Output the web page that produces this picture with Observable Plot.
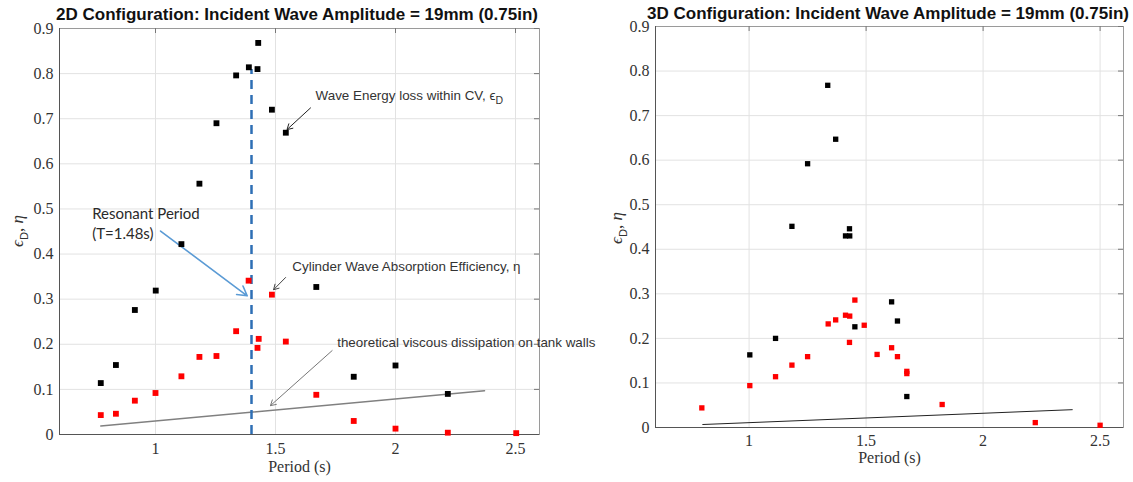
<!DOCTYPE html>
<html><head><meta charset="utf-8">
<script src="https://cdn.jsdelivr.net/npm/d3@7"></script>
<script src="https://cdn.jsdelivr.net/npm/@observablehq/plot@0.6"></script>
<style>
body{margin:0;background:#fff;width:1133px;height:482px;overflow:hidden;position:relative;font-family:"Liberation Sans",Arial,sans-serif}
.title{position:absolute;font-weight:bold;font-size:17px;color:#111;white-space:nowrap;transform:translate(-50%,-50%)}
.ylab{position:absolute;font-family:"Liberation Serif",serif;font-size:17px;white-space:nowrap;transform:translate(-50%,-50%) rotate(-90deg);color:#333}
.ylab sub{font-family:"Liberation Sans",Arial,sans-serif;font-size:11px}
.chart{position:absolute;top:0}
</style></head><body>
<div id="c2d" class="chart" style="left:0"></div>
<div id="c3d" class="chart" style="left:600px"></div>
<div class="title" style="left:297px;top:15px">2D Configuration: Incident Wave Amplitude = 19mm (0.75in)</div>
<div class="title" style="left:888px;top:14px">3D Configuration: Incident Wave Amplitude = 19mm (0.75in)</div>
<div class="ylab" style="left:19px;top:231px"><i>ϵ</i><sub>D</sub>, <i>η</i></div>
<div class="ylab" style="left:618px;top:228px"><i>ϵ</i><sub>D</sub>, <i>η</i></div>
<script>
// ---- shared axes ----
const xTicks = [1, 1.5, 2, 2.5];
const yTicks = [0, 0.1, 0.2, 0.3, 0.4, 0.5, 0.6, 0.7, 0.8, 0.9];
const xDomain = [0.6, 2.6];
const yDomain = [0, 0.9];
const xLabel = "Period (s)";

// ---- 2D configuration ----
const period2dLoss = [0.772, 0.835, 0.914, 1.001, 1.108, 1.183, 1.254, 1.336, 1.389, 1.425, 1.428, 1.485, 1.543, 1.670, 1.826, 2.0, 2.218];
const loss2d       = [0.114, 0.154, 0.276, 0.319, 0.422, 0.556, 0.690, 0.796, 0.814, 0.810, 0.868, 0.720, 0.669, 0.327, 0.128, 0.153, 0.090];
const period2dEff  = [0.772, 0.835, 0.914, 1.0, 1.108, 1.183, 1.254, 1.336, 1.388, 1.425, 1.430, 1.485, 1.543, 1.670, 1.826, 2.0, 2.218, 2.503];
const eff2d        = [0.043, 0.046, 0.075, 0.092, 0.129, 0.172, 0.174, 0.229, 0.341, 0.192, 0.212, 0.310, 0.206, 0.088, 0.030, 0.013, 0.004, 0.003];
const viscous2dPeriod = [0.772, 2.371];
const viscous2d       = [0.019, 0.097];
const resonantPeriod = [1.4];
const resonantTop = [0.809];

// 2D annotations
const noteText = ["Wave Energy loss within CV, ϵ_D", "Cylinder Wave Absorption Efficiency, η", "theoretical viscous dissipation on tank walls"];
const noteX = [1.667, 1.570, 1.757];
const noteY = [0.752, 0.372, 0.204];
const noteColor = ["#333", "#333", "#333"];
const arrowX1 = [1.646, 1.542, 1.736];
const arrowY1 = [0.724, 0.348, 0.186];
const arrowX2 = [1.548, 1.492, 1.479];
const arrowY2 = [0.676, 0.321, 0.064];
const arrowColor = ["#222", "#444", "#777"];
const resonantText = ["Resonant Period\n(T=1.48s)"];
const resonantTextX = [0.736];
const resonantTextY = [0.469];
const resonantArrow = {x1: [1.021], y1: [0.451], x2: [1.382], y2: [0.3075]};

// ---- 3D configuration ----
const period3dLoss = [1.003, 1.113, 1.183, 1.250, 1.336, 1.370, 1.412, 1.429, 1.430, 1.452, 1.609, 1.634, 1.674];
const loss3d       = [0.163, 0.200, 0.4515, 0.592, 0.768, 0.647, 0.430, 0.446, 0.430, 0.226, 0.282, 0.239, 0.0695];
const period3dEff  = [0.798, 1.003, 1.113, 1.183, 1.250, 1.338, 1.370, 1.412, 1.430, 1.429, 1.452, 1.492, 1.547, 1.609, 1.634, 1.674, 1.674, 1.825, 2.223, 2.5];
const eff3d        = [0.044, 0.094, 0.114, 0.140, 0.159, 0.2325, 0.2415, 0.252, 0.250, 0.191, 0.286, 0.2295, 0.164, 0.179, 0.159, 0.126, 0.121, 0.0516, 0.011, 0.005];
const viscous3dPeriod = [0.802, 2.381];
const viscous3d       = [0.0067, 0.040];

function idx(a) { return d3.range(a.length); }

function baseMarks(pw, ph, xPad) {
  return [
    Plot.gridX(xTicks, {stroke: "#e2e2e2", strokeOpacity: 1}),
    Plot.gridY(yTicks, {stroke: "#e2e2e2", strokeOpacity: 1}),
    Plot.frame({stroke: "#9a9a9a"}),
    Plot.tickY(yTicks, {y: d => d, insetLeft: pw - 5, stroke: "#777"}),
    Plot.tickX(xTicks, {x: d => d, insetBottom: ph - 5, stroke: "#777"}),
    Plot.ruleX([xDomain[0]], {stroke: "#555"}),
    Plot.ruleY([yDomain[0]], {stroke: "#555"}),
    Plot.axisX(xTicks, {tickSize: 0, tickPadding: xPad, label: null, fontSize: 16, fill: "#333", tickFormat: d => String(d)}),
    Plot.axisY(yTicks, {tickSize: 0, tickPadding: 6, label: null, fontSize: 16, fill: "#333", tickFormat: d => String(d)})
  ];
}

// ---- 2D chart ----
{
  const W = 600, H = 482, ml = 59, mr = 61, mt = 28, mb = 48;
  const pw = W - ml - mr, ph = H - mt - mb;
  const svg = Plot.plot({
    width: W, height: H, marginLeft: ml, marginRight: mr, marginTop: mt, marginBottom: mb,
    style: {fontFamily: "'Liberation Serif', serif", fontSize: "16px", background: "transparent", overflow: "visible"},
    x: {domain: xDomain}, y: {domain: yDomain},
    marks: [
      ...baseMarks(pw, ph, 8),
      Plot.text([xLabel], {frameAnchor: "bottom", dy: 37, fontSize: 16, fill: "#333"}),
      Plot.line(idx(viscous2dPeriod), {x: i => viscous2dPeriod[i], y: i => viscous2d[i], stroke: "#808080", strokeWidth: 1.5}),
      Plot.ruleX(resonantPeriod, {x: d => d, y1: yDomain[0], y2: (d, i) => resonantTop[i], stroke: "#2e6fb5", strokeWidth: 2.5, strokeDasharray: "9,6"}),
      Plot.arrow(idx(arrowX1), {x1: i => arrowX1[i], y1: i => arrowY1[i], x2: i => arrowX2[i], y2: i => arrowY2[i], stroke: i => arrowColor[i], strokeWidth: 1, headLength: 9}),
      Plot.arrow([0], {x1: i => resonantArrow.x1[i], y1: i => resonantArrow.y1[i], x2: i => resonantArrow.x2[i], y2: i => resonantArrow.y2[i], stroke: "#5b9bd5", strokeWidth: 1.6, headLength: 10}),
      Plot.dot(idx(period2dLoss), {x: i => period2dLoss[i], y: i => loss2d[i], symbol: "square", r: 3.3, fill: "#000"}),
      Plot.dot(idx(period2dEff), {x: i => period2dEff[i], y: i => eff2d[i], symbol: "square", r: 3.3, fill: "#ff0000"}),
      Plot.text(idx(noteText), {x: i => noteX[i], y: i => noteY[i], text: i => noteText[i], textAnchor: "start", fontFamily: "'Liberation Sans', Arial, sans-serif", fontSize: 13.4, fill: i => noteColor[i]}),
      Plot.text(resonantText, {x: (d, i) => resonantTextX[i], y: (d, i) => resonantTextY[i], text: d => d, textAnchor: "start", lineHeight: 1.3, fontFamily: "Lato, 'Open Sans', sans-serif", fontSize: 15, fill: "#2a2a2a"})
    ]
  });
  document.getElementById("c2d").appendChild(svg);
}

// ---- 3D chart ----
{
  const W = 533, H = 482, ml = 55, mr = 10, mt = 26, mb = 55;
  const pw = W - ml - mr, ph = H - mt - mb;
  const svg = Plot.plot({
    width: W, height: H, marginLeft: ml, marginRight: mr, marginTop: mt, marginBottom: mb,
    style: {fontFamily: "'Liberation Serif', serif", fontSize: "16px", background: "transparent", overflow: "visible"},
    x: {domain: xDomain}, y: {domain: yDomain},
    marks: [
      ...baseMarks(pw, ph, 7),
      Plot.text([xLabel], {frameAnchor: "bottom", dy: 35, fontSize: 16, fill: "#333"}),
      Plot.line(idx(viscous3dPeriod), {x: i => viscous3dPeriod[i], y: i => viscous3d[i], stroke: "#222", strokeWidth: 1}),
      Plot.dot(idx(period3dLoss), {x: i => period3dLoss[i], y: i => loss3d[i], symbol: "square", r: 3.0, fill: "#000"}),
      Plot.dot(idx(period3dEff), {x: i => period3dEff[i], y: i => eff3d[i], symbol: "square", r: 3.0, fill: "#ff0000"})
    ]
  });
  document.getElementById("c3d").appendChild(svg);
}

// subscript D in the annotation
document.querySelectorAll("svg text").forEach(t => {
  if (t.textContent.endsWith("ϵ_D")) {
    t.textContent = t.textContent.replace("ϵ_D", "ϵ");
    const s = document.createElementNS("http://www.w3.org/2000/svg", "tspan");
    s.setAttribute("dy", "4");
    s.setAttribute("font-size", "10.5");
    s.textContent = "D";
    t.appendChild(s);
  }
});
</script>
</body></html>
